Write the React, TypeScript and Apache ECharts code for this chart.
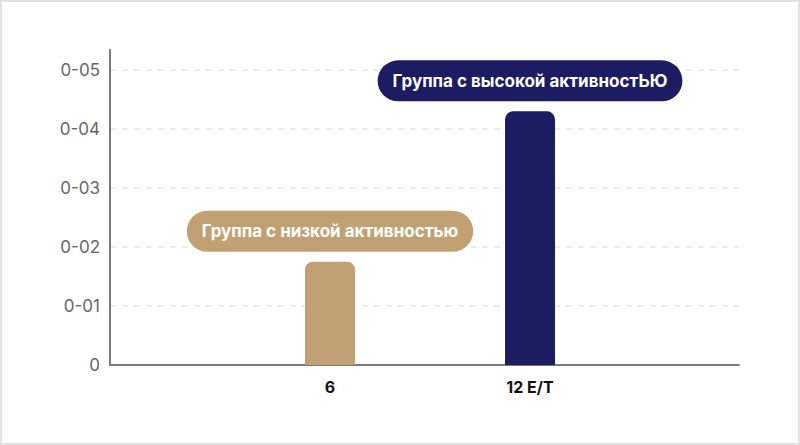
import React, { useEffect, useRef } from "react";
import * as echarts from "echarts";

const categories = ["", "6", "12 E/T", ""];
const values: (number | null)[] = [null, 1.75, 4.3, null];
const groupLabels = ["", "Группа с низкой активностью", "Группа с высокой активностЬЮ", ""];
const barColors = ["#C1A173", "#C1A173", "#1C1C62", "#1C1C62"];
const yTickLabels = ["0", "0-01", "0-02", "0-03", "0-04", "0-05"];

const Y_MAX = 5.34;
const FONT = "Inter, Roboto, 'Noto Sans', sans-serif";

export default function App() {
  const ref = useRef<HTMLDivElement>(null);
  useEffect(() => {
    if (!ref.current) return;
    const chart = echarts.init(ref.current, undefined, { renderer: "svg" });
    chart.setOption({
      animation: false,
      backgroundColor: "#ffffff",
      textStyle: { fontFamily: FONT },
      graphic: [
        {
          type: "rect",
          shape: { x: 1, y: 1, width: 798, height: 443 },
          style: { fill: "none", stroke: "#e2e2e2", lineWidth: 2 },
          silent: true,
        },
      ],
      grid: [
        { left: 110, right: 61, top: 50, bottom: 80 },
        { left: 130, right: 70, top: 50, bottom: 80 },
      ],
      xAxis: [
        {
          type: "category",
          gridIndex: 0,
          data: ["", ""],
          axisLine: { show: true, lineStyle: { color: "#7a7a7a", width: 2 } },
          axisTick: { show: false },
          axisLabel: { show: false },
          splitLine: { show: false },
        },
        {
          type: "category",
          gridIndex: 1,
          data: categories,
          boundaryGap: false,
          axisLine: { show: false },
          axisTick: { show: false },
          splitLine: { show: false },
          axisLabel: {
            show: true,
            color: "#111111",
            fontSize: 16,
            fontWeight: "bold",
            fontFamily: FONT,
            margin: 14,
          },
        },
      ],
      yAxis: [
        {
          type: "value",
          gridIndex: 0,
          min: 0,
          max: Y_MAX,
          interval: 1,
          axisLine: { show: true, lineStyle: { color: "#7a7a7a", width: 2 } },
          axisTick: { show: false },
          axisLabel: {
            color: "#666666",
            fontSize: 17,
            fontFamily: FONT,
            margin: 10,
            showMaxLabel: false,
            formatter: (v: number) => {
              const i = Math.round(v);
              return Math.abs(v - i) < 1e-6 && yTickLabels[i] !== undefined ? yTickLabels[i] : "";
            },
          },
          splitLine: {
            show: true,
            showMaxLine: false,
            lineStyle: { color: "#e6e6e6", type: [6, 6], width: 1.5 },
          },
        },
        {
          type: "value",
          gridIndex: 1,
          min: 0,
          max: Y_MAX,
          interval: 1,
          show: false,
          splitLine: { show: false },
        },
      ],
      series: [
        {
          type: "bar",
          xAxisIndex: 1,
          yAxisIndex: 1,
          barWidth: 50,
          data: values.map((v, i) => ({
            value: v,
            itemStyle: { color: barColors[i], borderRadius: [8, 8, 0, 0] },
            label: {
              show: v !== null,
              position: "top",
              distance: 10,
              formatter: groupLabels[i],
              color: "#ffffff",
              fontSize: 17,
              fontWeight: "bold",
              fontFamily: FONT,
              lineHeight: 21,
              backgroundColor: barColors[i],
              borderRadius: 21,
              padding: [10, 15],
            },
          })),
        },
      ],
    });
    return () => chart.dispose();
  }, []);
  return (
    <div
      ref={ref}
      style={{ position: "fixed", left: 0, top: 0, width: 800, height: 445 }}
    />
  );
}
